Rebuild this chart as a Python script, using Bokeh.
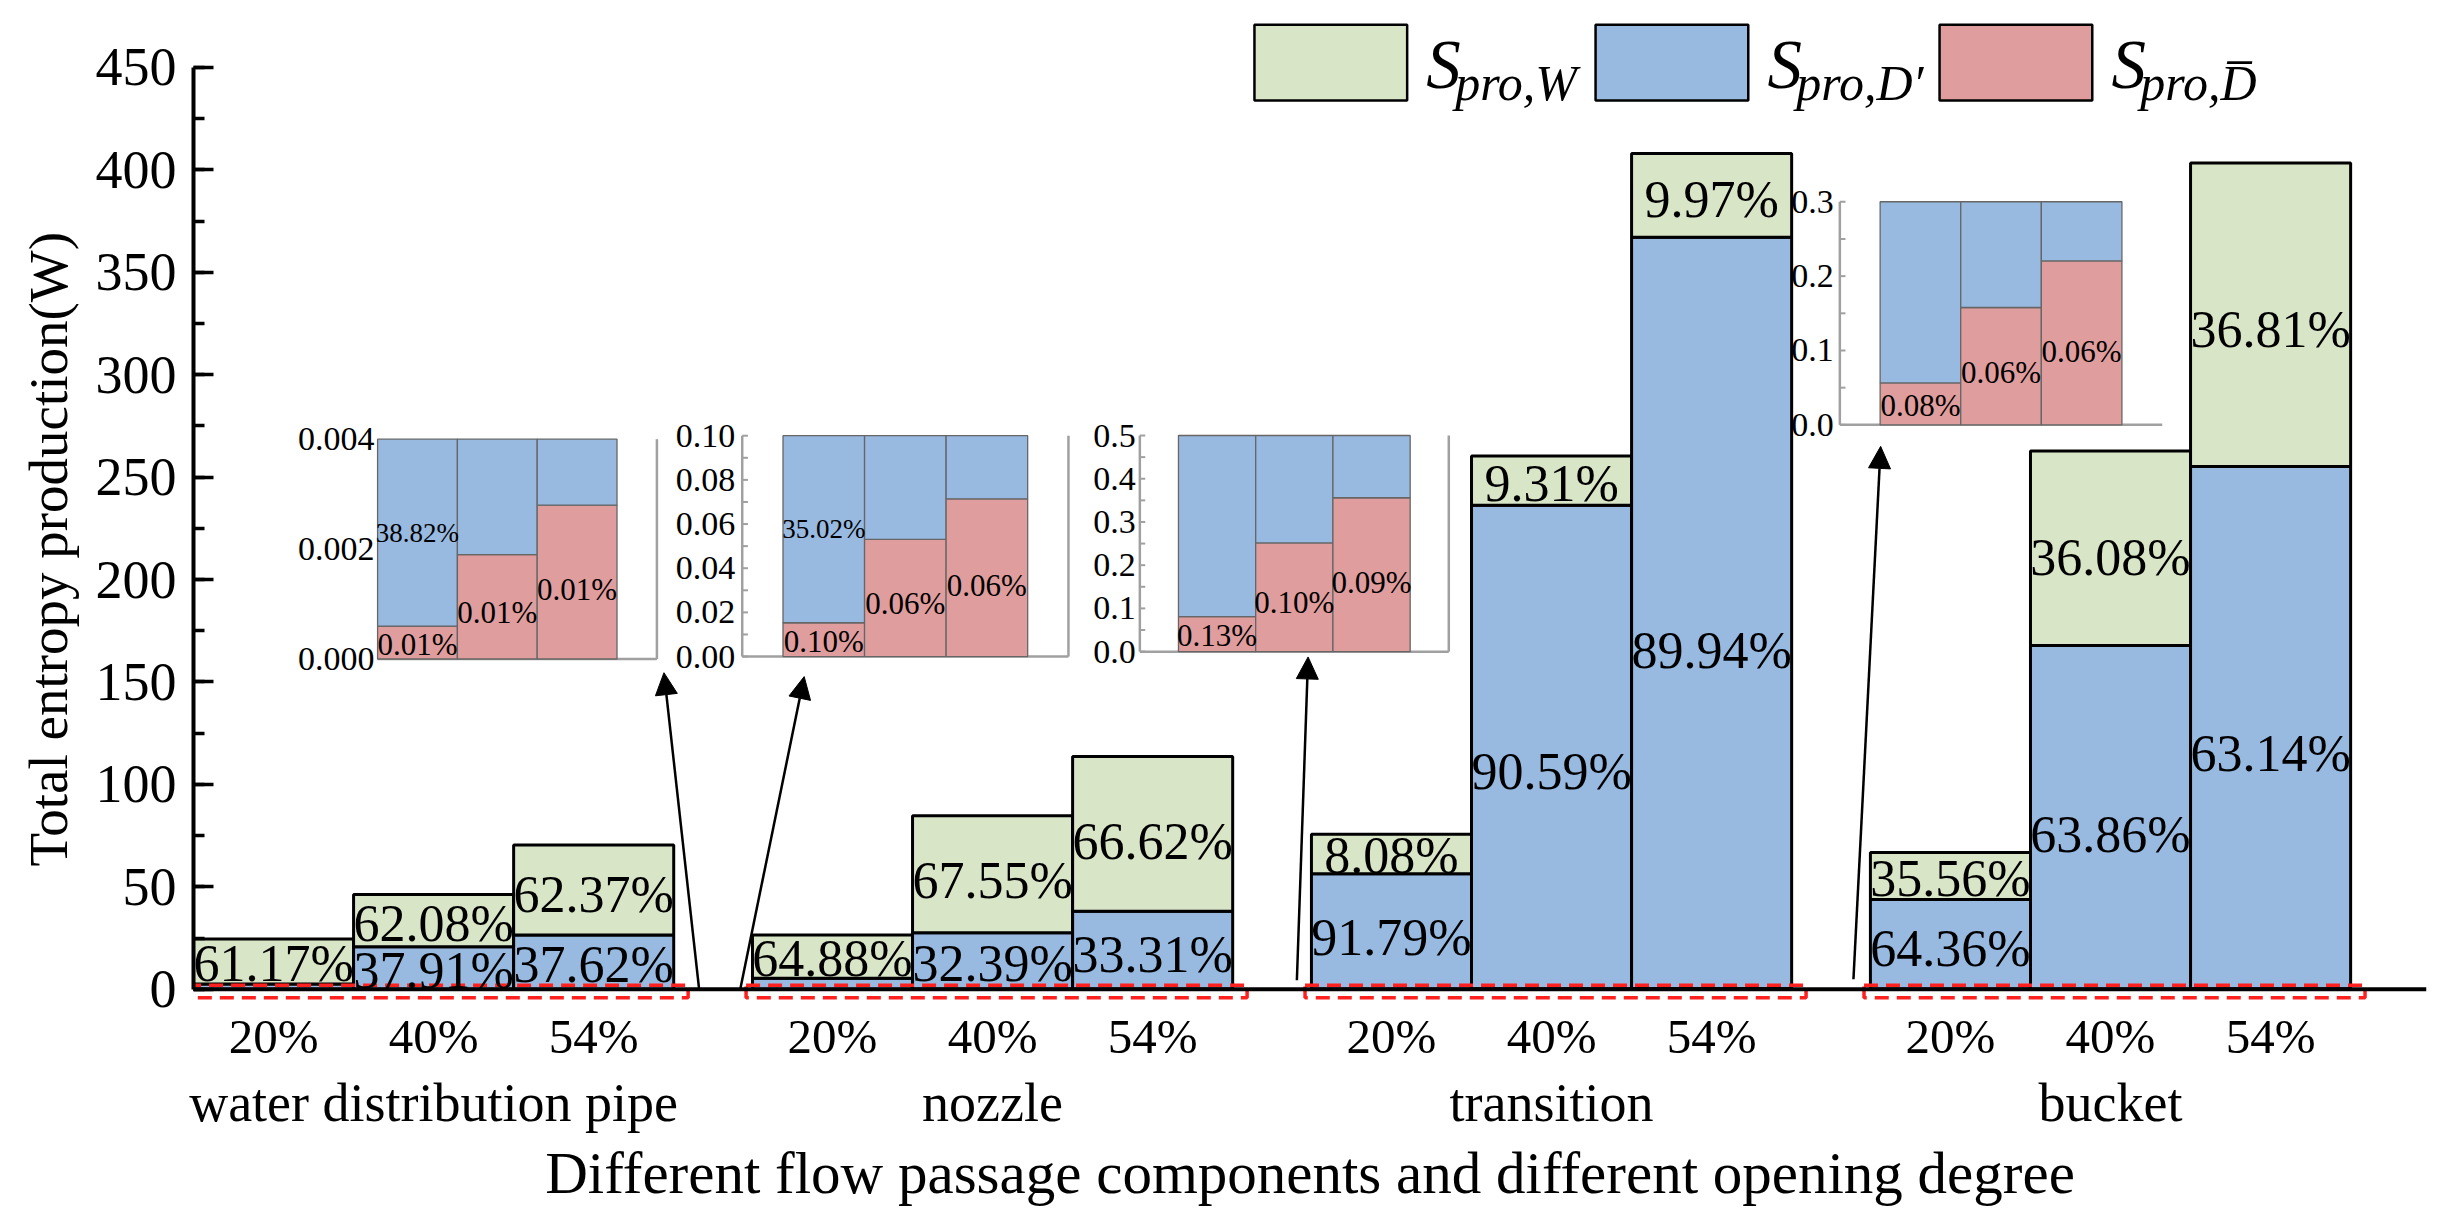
import numpy as np
from bokeh.plotting import figure
from bokeh.models import (Range1d, SingleIntervalTicker, FixedTicker, LinearAxis,
                          Span, Arrow, NormalHead, ColumnDataSource, Title)
from bokeh.embed import file_html
from bokeh.resources import INLINE
from bokeh.core.properties import value

# ---------------- data ----------------
components = ["water distribution pipe", "nozzle", "transition", "bucket"]
openings = ["20%", "40%", "54%"]

# entropy production (W) per component (rows) and opening degree (columns)
s_w = [[22.0, 25.6, 43.9], [21.1, 57.1, 75.5], [19.3, 24.0, 40.9], [22.9, 95.0, 148.1]]
s_dp = [[2.5, 20.7, 26.5], [5.4, 27.5, 38.0], [56.3, 236.0, 366.7], [43.8, 167.6, 255.0]]
s_db = [[0.0006, 0.0019, 0.0028], [0.0153, 0.0531, 0.0714],
        [0.0808, 0.2515, 0.356], [0.0564, 0.1578, 0.2204]]

pct_w = [["61.17%", "62.08%", "62.37%"], ["64.88%", "67.55%", "66.62%"],
         ["8.08%", "9.31%", "9.97%"], ["35.56%", "36.08%", "36.81%"]]
pct_dp = [["38.82%", "37.91%", "37.62%"], ["35.02%", "32.39%", "33.31%"],
          ["91.79%", "90.59%", "89.94%"], ["64.36%", "63.86%", "63.14%"]]
pct_db = [["0.01%", "0.01%", "0.01%"], ["0.10%", "0.06%", "0.06%"],
          ["0.13%", "0.10%", "0.09%"], ["0.08%", "0.06%", "0.06%"]]

inset_ymax = [0.004, 0.10, 0.5, 0.3]
inset_step = [0.002, 0.02, 0.1, 0.1]
inset_decimals = [3, 2, 1, 1]

legend_labels = ["pro,W", "pro,D\u2032", "pro,D\u0305"]
y_title = "Total entropy production(W)"
x_title = "Different flow passage components and different opening degree"

# ---------------- styling / layout ----------------
FONT = value("Liberation Serif")
C_W, C_DP, C_DB = "#D8E5C7", "#98B9E0", "#E09D9D"
GROUP_GAP = 0.492
group_step = 3 + GROUP_GAP
LABEL_FRAC = 0.45

inset_x_target = [(1.150, 2.895), (3.428, 5.466), (5.912, 7.842), (10.285, 12.299)]
inset_y_target = [(161.2, 268.5), (162.4, 270.2), (164.8, 270.3), (275.5, 384.4)]
inset_pad = [0.0, 0.5, 0.5, 0.5]
inset_xend = [3.5, 4.0, 4.0, 4.0]
inset_left_axis = [False, True, True, True]
inset_right_border = [True, True, True, False]
inset_label_offset = [-3, -7, -4, -6]

arrows = [(3.158, 0.5, 2.939, 154.5), (3.417, 0.5, 3.815, 152.6),
          (6.893, 4.4, 6.963, 162.2), (10.37, 4.9, 10.54, 265.0)]

p = figure(width=2430, height=1210, x_range=Range1d(0, 13.95), y_range=Range1d(-5.5, 474.84),
           output_backend="svg", toolbar_location=None,
           min_border_left=193, min_border_right=4, min_border_top=16, min_border_bottom=210)
p.xgrid.visible = False
p.ygrid.visible = False
p.outline_line_color = None
p.background_fill_color = "white"
p.border_fill_color = "white"

# ---------------- main stacked bars ----------------
rows = dict(x=[], bottom=[], top=[], color=[])
lab = dict(x=[], y=[], text=[])
centers = []
for g in range(len(components)):
    for i in range(len(openings)):
        x = g * group_step + i + 0.5
        centers.append(round(x, 6))
        r, d, w = s_db[g][i], s_dp[g][i], s_w[g][i]
        for b, t, c in ((0, r, C_DB), (r, r + d, C_DP), (r + d, r + d + w, C_W)):
            rows["x"].append(x); rows["bottom"].append(b); rows["top"].append(t); rows["color"].append(c)
        lab["x"].append(x); lab["y"].append(r + d + LABEL_FRAC * w); lab["text"].append(pct_w[g][i])
        if d >= 10:
            lab["x"].append(x); lab["y"].append(r + LABEL_FRAC * d); lab["text"].append(pct_dp[g][i])

p.vbar(x="x", bottom="bottom", top="top", width=1.0, fill_color="color",
       line_color="black", line_width=3, source=ColumnDataSource(rows))

# dashed zoom boxes
gl = [g * group_step - 0.04 for g in range(len(components))]
gr = [g * group_step + 3 + 0.09 for g in range(len(components))]
p.quad(left=gl, right=gr, bottom=[-4.2] * 4, top=[2.0] * 4, fill_color=None,
       line_color="#FF2020", line_width=3.5, line_dash="14 8")

p.text(x="x", y="y", text="text", source=ColumnDataSource(lab), text_font=FONT,
       text_font_size="52px", text_align="center", text_baseline="middle", text_color="black")

# ---------------- axes ----------------
ya = p.yaxis[0]
ya.ticker = SingleIntervalTicker(interval=50, num_minor_ticks=2)
ya.bounds = (0, 450)
ya.axis_line_width = 4
ya.axis_line_color = "black"
ya.major_tick_in = 20
ya.major_tick_out = 0
ya.minor_tick_in = 11
ya.minor_tick_out = 0
ya.major_tick_line_width = 3.5
ya.minor_tick_line_width = 3.5
ya.major_label_text_font = "Liberation Serif"
ya.major_label_text_font_size = "54px"
ya.major_label_text_color = "black"
ya.major_label_standoff = 17

p.add_layout(Title(text=y_title, align="left", offset=134, standoff=28,
                   text_font="Liberation Serif", text_font_size="55px",
                   text_font_style="normal", text_color="black"), "left")

xa = p.xaxis[0]
xa.ticker = FixedTicker(ticks=centers)
xa.major_label_overrides = {c: openings[k % len(openings)] for k, c in enumerate(centers)}
xa.axis_line_color = None
xa.major_tick_line_color = None
xa.minor_tick_line_color = None
xa.major_label_text_font = "Liberation Serif"
xa.major_label_text_font_size = "49px"
xa.major_label_text_color = "black"
xa.major_label_standoff = 2

gcenters = [round(g * group_step + 1.5, 6) for g in range(len(components))]
xa2 = LinearAxis(ticker=FixedTicker(ticks=gcenters),
                 major_label_overrides={c: components[k] for k, c in enumerate(gcenters)},
                 axis_line_color=None, major_tick_line_color=None, minor_tick_line_color=None,
                 major_label_text_font="Liberation Serif", major_label_text_font_size="54px",
                 major_label_text_color="black", major_label_standoff=0,
                 axis_label=x_title,
                 axis_label_text_font="Liberation Serif", axis_label_text_font_size="59px",
                 axis_label_text_font_style="normal", axis_label_text_color="black",
                 axis_label_standoff=4)
p.add_layout(xa2, "below")

p.add_layout(Span(location=0, dimension="width", line_color="black", line_width=4))

# ---------------- insets ----------------
for g in range(len(components)):
    ymax = inset_ymax[g]
    pad = inset_pad[g]
    xend = inset_xend[g]
    sub = p.subplot(x_source=Range1d(0, xend), y_source=Range1d(0, ymax),
                    x_target=Range1d(*inset_x_target[g]), y_target=Range1d(*inset_y_target[g]))
    seg = dict(x0=[0], y0=[0], x1=[xend], y1=[0])
    if inset_left_axis[g]:
        seg["x0"].append(0); seg["y0"].append(0); seg["x1"].append(0); seg["y1"].append(ymax)
    if inset_right_border[g]:
        seg["x0"].append(xend); seg["y0"].append(0); seg["x1"].append(xend); seg["y1"].append(ymax)
    sub.segment(x0="x0", y0="y0", x1="x1", y1="y1", source=ColumnDataSource(seg),
                line_color="#A0A0A0", line_width=2.5)
    ticks = list(np.round(np.arange(0, ymax + inset_step[g] / 2, inset_step[g]), 6))
    if inset_left_axis[g]:
        minor = list(np.round(np.arange(0, ymax + inset_step[g] / 4, inset_step[g] / 2), 6))
        sub.segment(x0=[0] * len(minor), y0=minor, x1=[0.07] * len(minor), y1=minor,
                    line_color="#A0A0A0", line_width=2)
    sub.text(x=[0] * len(ticks), y=ticks, text=[f"{t:.{inset_decimals[g]}f}" for t in ticks],
             text_font=FONT, text_font_size="34px", text_align="right", text_baseline="middle",
             x_offset=inset_label_offset[g], text_color="black")
    ib = dict(x=[], bottom=[], top=[], color=[])
    il = dict(x=[], y=[], text=[], size=[])
    for i in range(len(openings)):
        x = pad + i + 0.5
        r, d, w = s_db[g][i], s_dp[g][i], s_w[g][i]
        for b, t, c in ((0, r, C_DB), (r, r + d, C_DP), (r + d, r + d + w, C_W)):
            b2, t2 = min(b, ymax), min(t, ymax)
            if t2 > b2:
                ib["x"].append(x); ib["bottom"].append(b2); ib["top"].append(t2); ib["color"].append(c)
        il["x"].append(x); il["y"].append(LABEL_FRAC * min(r, ymax)); il["text"].append(pct_db[g][i]); il["size"].append("31px")
        if d < 10:
            top = min(r + d, ymax)
            il["x"].append(x); il["y"].append(r + 0.5 * (top - r)); il["text"].append(pct_dp[g][i]); il["size"].append("27px")
    sub.vbar(x="x", bottom="bottom", top="top", width=1.0, fill_color="color",
             line_color="#666666", line_width=1.3, source=ColumnDataSource(ib))
    sub.text(x="x", y="y", text="text", text_font_size="size", source=ColumnDataSource(il),
             text_font=FONT, text_align="center", text_baseline="middle", text_color="black")

# ---------------- arrows ----------------
for (x0, y0, x1, y1) in arrows:
    p.add_layout(Arrow(x_start=x0, y_start=y0, x_end=x1, y_end=y1, line_width=2.5,
                       line_color="black",
                       end=NormalHead(size=22, fill_color="black", line_color="black")))

# ---------------- legend ----------------
leg_left = [6.628, 8.759, 10.908]
leg_w = 0.954
leg_colors = [C_W, C_DP, C_DB]
p.quad(left=leg_left, right=[l + leg_w for l in leg_left], bottom=[433.8] * 3, top=[470.8] * 3,
       fill_color=leg_colors, line_color="black", line_width=2.5)
p.text(x=[l + leg_w + 0.12 for l in leg_left], y=[451.2] * 3, text=["S"] * 3, text_font=FONT,
       text_font_size="69px", text_font_style="italic", text_align="left",
       text_baseline="middle", text_color="black")
p.text(x=[l + leg_w + 0.30 for l in leg_left], y=[442.2] * 3, text=legend_labels, text_font=FONT,
       text_font_size="50px", text_font_style="italic", text_align="left",
       text_baseline="middle", text_color="black")

open("out.html", "w").write(file_html(p, INLINE))
